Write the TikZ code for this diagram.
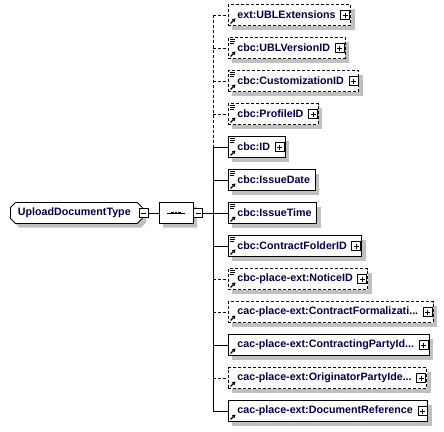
\documentclass[tikz,border=0pt]{standalone}
\usepackage{fontspec}
\setmainfont{Liberation Sans}
\usetikzlibrary{arrows.meta,positioning,shapes.misc,shadows}
\definecolor{shadowgray}{RGB}{192,192,192}
\definecolor{namenavy}{RGB}{0,0,70}
\newcommand{\elide}{...}

\begin{document}
\begin{tikzpicture}[
  x=1pt,y=-1pt,
  every node/.style={font=\fontsize{10.7}{12}\selectfont\bfseries},
  shade box/.style={drop shadow={shadow xshift=4pt,shadow yshift=-4pt,fill=shadowgray,opacity=1}},
  elem/.style={rectangle,draw,fill=white,line width=0.9pt,shade box,inner xsep=0pt,inner ysep=0pt,minimum height=21pt,text=namenavy},
  rootbox/.style={chamfered rectangle,chamfered rectangle sep=2.5pt,draw,fill=white,line width=0.9pt,shade box,inner xsep=0pt,inner ysep=0pt,minimum height=21pt,text=namenavy},
  seqbox/.style={chamfered rectangle,chamfered rectangle sep=6pt,draw,fill=white,line width=0.9pt,shade box,inner sep=0pt,minimum width=34pt,minimum height=21pt},
  opt/.style={dash pattern=on 3pt off 2pt},
  req/.style={solid},
  link/.style={line width=0.9pt},
  iconline/.style={line width=0.8pt},
  refarrow/.style={line width=1.2pt,-{Triangle[length=3.2pt,width=3.8pt]}},
  minusbox/.style={rectangle,draw,fill=white,line width=0.8pt,minimum size=9pt,inner sep=0pt,
    path picture={\draw[line width=0.8pt] ([xshift=2pt]path picture bounding box.west) -- ([xshift=-2pt]path picture bounding box.east);}},
  plusbox/.style={rectangle,draw,fill=white,line width=0.8pt,minimum size=9pt,inner sep=0pt,
    path picture={\draw[line width=0.8pt] ([xshift=2pt]path picture bounding box.west) -- ([xshift=-2pt]path picture bounding box.east)
      ([yshift=-2pt]path picture bounding box.north) -- ([yshift=2pt]path picture bounding box.south);}}
]
\useasboundingbox (0,0) rectangle (444,431);

% root type and its sequence
\node[rootbox,anchor=west] (root) at (10,213) {\hspace*{5pt}UploadDocumentType\hspace*{9pt}};
\node[minusbox] (rminus) at ([xshift=1pt]root.east) {};
\node[seqbox,right=10pt of rminus] (seq) {};
\node[minusbox,anchor=west] (sminus) at (seq.east) {};
\draw[line width=1pt] ([xshift=8pt]seq.west) -- ([xshift=-8pt]seq.east);
\foreach \d in {-3.5,0,3.5}
  \fill ([shift={(\d pt-1.4pt,-1.4pt)}]seq.center) rectangle +(2.8pt,2.8pt);

\coordinate (bus) at (213,213);
\draw[link] (rminus) -- (seq);
\draw[link] (sminus) -- (sminus -| bus);

% child elements
\foreach \i/\name/\kind/\lines/\pad in {
  1/ext:UBLExtensions/opt/0/15,
  2/cbc:UBLVersionID/opt/1/15,
  3/cbc:CustomizationID/opt/1/15,
  4/cbc:ProfileID/opt/1/15,
  5/cbc:ID/req/1/15,
  6/cbc:IssueDate/req/1/5,
  7/cbc:IssueTime/req/1/5,
  8/cbc:ContractFolderID/req/1/15,
  9/cbc-place-ext:NoticeID/opt/1/15,
  10/cac-place-ext:ContractFormalizati\elide/opt/0/15,
  11/cac-place-ext:ContractingPartyId\elide/req/0/15,
  12/cac-place-ext:OriginatorPartyIde\elide/opt/0/15,
  13/cac-place-ext:DocumentReference/req/0/15}
{
  \node[elem,\kind,anchor=west] (e\i) at (228,{15+33*(\i-1)}) {\hspace*{9pt}\name\hspace*{\pad pt}};
  \ifnum\pad>10
    \node[plusbox,anchor=east] (p\i) at ([xshift=-1pt]e\i.east) {};
  \fi
  \ifnum\lines=1
    \draw[iconline] ([shift={(2pt,-2.5pt)}]e\i.north west) -- +(5pt,0pt)
      ([shift={(2pt,-4.5pt)}]e\i.north west) -- +(5pt,0pt)
      ([shift={(2pt,-6.5pt)}]e\i.north west) -- +(4pt,0pt);
  \fi
  \draw[refarrow] ([shift={(2.5pt,2.5pt)}]e\i.south west) -- ([shift={(7.5pt,7.5pt)}]e\i.south west);
  \draw[link,\kind] (e\i.west -| bus) -- (e\i.west);
}

\draw[link,opt] (e1.west -| bus) -- (e5.west -| bus);
\draw[link] (e5.west -| bus) -- (e13.west -| bus);
\end{tikzpicture}
\end{document}
